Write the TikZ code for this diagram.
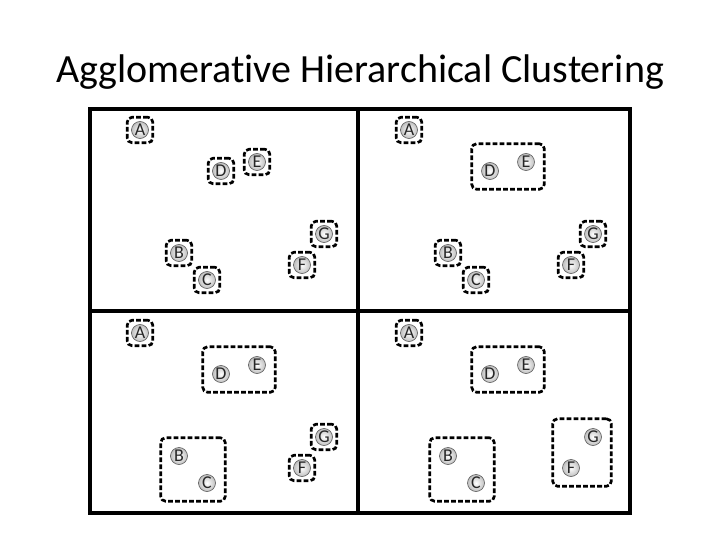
\documentclass[tikz,border=0pt]{standalone}
\usepackage{fontspec}
\setmainfont{Carlito}[Ligatures=NoCommon]
\usetikzlibrary{fit,positioning}
\tikzset{
  pointnode/.style={circle,draw=black!65,line width=0.6pt,minimum size=17pt,inner sep=0pt,
    inner color=white,outer color=gray!50,text=black!85,font=\fontsize{18}{18}\selectfont},
  clusterbox/.style={rectangle,draw=black,line width=2.7pt,dash pattern=on 4.8pt off 2.2pt,
    rounded corners=5pt,inner sep=9.5pt},
  singlebox/.style={clusterbox,inner sep=4pt},
  framebox/.style={draw=black,line width=4pt},
  dividerline/.style={draw=black,line width=3.5pt}
}

\begin{document}
\begin{tikzpicture}[x=1pt,y=-1pt]
  \useasboundingbox (0,0) rectangle (720,540);

  %% Title
  \node[font=\fontsize{40}{48}\selectfont,anchor=base] (title) at (360,83) {Agglomerative Hierarchical Clustering};

  %% Frame and panel dividers
  \coordinate (fnw) at (90,109);
  \coordinate (fse) at (630,513);
  \coordinate (mtop) at (358,109);
  \coordinate (mbot) at (358,513);
  \coordinate (mleft) at (90,311);
  \coordinate (mright) at (630,311);
  \draw[framebox] (fnw) rectangle (fse);
  \draw[dividerline] (mtop)--(mbot);
  \draw[dividerline] (mleft)--(mright);

  %% Points, same layout in all four panels
  \foreach \pn/\dx/\dy in {1/0/0,2/269/0,3/0/203,4/269/203}{
    \foreach \lbl/\px/\py in {A/140/130,D/221/171,E/257/162,B/179/253,C/207/280,G/324/234,F/302/265}{
      \node[pointnode] (\lbl\pn) at (\px+\dx,\py+\dy) {\lbl};
    }
  }

  %% Panel 1: every point its own cluster
  \node[singlebox,fit=(A1)] (cA1) {};
  \node[singlebox,fit=(D1)] (cD1) {};
  \node[singlebox,fit=(E1)] (cE1) {};
  \node[singlebox,fit=(B1)] (cB1) {};
  \node[singlebox,fit=(C1)] (cC1) {};
  \node[singlebox,fit=(G1)] (cG1) {};
  \node[singlebox,fit=(F1)] (cF1) {};

  %% Panel 2: D and E merged
  \node[singlebox,fit=(A2)] (cA2) {};
  \node[clusterbox,fit=(D2)(E2)] (cDE2) {};
  \node[singlebox,fit=(B2)] (cB2) {};
  \node[singlebox,fit=(C2)] (cC2) {};
  \node[singlebox,fit=(G2)] (cG2) {};
  \node[singlebox,fit=(F2)] (cF2) {};

  %% Panel 3: B and C merged
  \node[singlebox,fit=(A3)] (cA3) {};
  \node[clusterbox,fit=(D3)(E3)] (cDE3) {};
  \node[clusterbox,fit=(B3)(C3)] (cBC3) {};
  \node[singlebox,fit=(G3)] (cG3) {};
  \node[singlebox,fit=(F3)] (cF3) {};

  %% Panel 4: F and G merged
  \node[singlebox,fit=(A4)] (cA4) {};
  \node[clusterbox,fit=(D4)(E4)] (cDE4) {};
  \node[clusterbox,fit=(B4)(C4)] (cBC4) {};
  \node[clusterbox,fit=(F4)(G4)] (cFG4) {};
\end{tikzpicture}
\end{document}
